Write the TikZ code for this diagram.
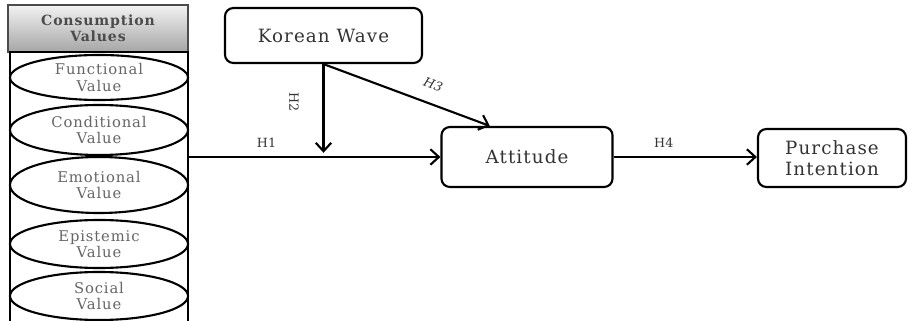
\documentclass[tikz,border=0pt]{standalone}
\usepackage{fontspec}
\setmainfont{DejaVu Serif}[LetterSpace=6]
\usetikzlibrary{shapes.geometric,arrows.meta,positioning}

\begin{document}
\begin{tikzpicture}
[x=0.025cm,y=-0.025cm,%
 boxstyle/.style={draw,line width=1.5pt,rounded corners=6pt,align=center,font=\fontsize{13}{15}\selectfont,text=black!80},%
 valuestyle/.style={ellipse,draw,line width=1.5pt,inner sep=0pt,minimum width=4.45cm,align=center,text=black!60,font=\fontsize{10.5}{11.5}\selectfont},%
 arrowstyle/.style={line width=1.5pt,->,>={Straight Barb[length=6pt,width=11pt]}},%
 hlabel/.style={font=\fontsize{9}{10}\selectfont\addfontfeatures{LetterSpace=2},text=black!80}]
\useasboundingbox (0,0) rectangle (910,321);
%% consumption values
\node[draw=black!70,line width=0.8pt,top color=black!5,bottom color=black!35,minimum width=4.5cm,minimum height=1.175cm,align=center,font=\bfseries\fontsize{10}{11.5}\selectfont,text=black!70] (cv) at (98,28.5) {Consumption\\Values};
\node[minimum width=4.45cm,minimum height=6.725cm,inner sep=0pt] (cvbox) at (99,186.5) {};
\draw[line width=1.5pt] (cvbox.south west) -- (cvbox.north west) -- (cvbox.north east) -- (cvbox.south east);
\node[valuestyle,minimum height=1.125cm] (fv) at (99,77.5) {Functional\\Value};
\node[valuestyle,minimum height=1.25cm] (cdv) at (99,130) {Conditional\\Value};
\node[valuestyle,minimum height=1.4cm] (ev) at (99,185) {Emotional\\Value};
\node[valuestyle,minimum height=1.2cm] (epv) at (99,244) {Epistemic\\Value};
\node[valuestyle,minimum height=1.2cm] (sv) at (99,296) {Social\\Value};
%% constructs
\node[boxstyle,minimum width=4.925cm,minimum height=1.375cm] (kw) at (323.5,35.5) {Korean Wave};
\node[boxstyle,minimum width=4.275cm,minimum height=1.5cm] (att) at (527,157) {Attitude};
\node[boxstyle,minimum width=3.7cm,minimum height=1.45cm] (pi) at (832,158) {Purchase\\Intention};
%% hypotheses
\draw[arrowstyle] (cvbox.east |- att.west) -- node[hlabel,above=3pt,pos=0.31]{H1} (att.west);
\coordinate (mod) at (kw.south |- att.west);
\draw[arrowstyle,shorten >=3pt] (kw.south) -- (mod);
\node[hlabel,rotate=-90] (h2) at (294,102) {H2};
\draw[arrowstyle] (kw.south) -- node[hlabel,sloped,above=6pt,pos=0.62]{\itshape H3} ([xshift=-0.93cm]att.north);
\draw[arrowstyle] (att.east) -- node[hlabel,above=3pt,pos=0.35]{H4} (att.east -| pi.west);
\end{tikzpicture}
\end{document}
